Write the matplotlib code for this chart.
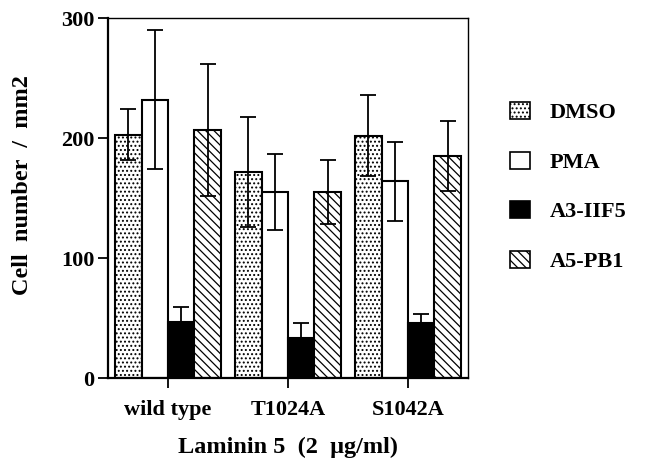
import numpy as np
import matplotlib.pyplot as plt
from matplotlib.patches import Patch

groups = ["wild type", "T1024A", "S1042A"]
series = ["DMSO", "PMA", "A3-IIF5", "A5-PB1"]
values = {
    "DMSO":    [203, 172, 202],
    "PMA":     [232, 155, 164],
    "A3-IIF5": [47, 33, 46],
    "A5-PB1":  [207, 155, 185],
}
errors = {
    "DMSO":    [21, 46, 34],
    "PMA":     [58, 32, 33],
    "A3-IIF5": [12, 13, 7],
    "A5-PB1":  [55, 27, 29],
}
faces = {"DMSO": "white", "PMA": "white", "A3-IIF5": "black", "A5-PB1": "white"}
hatches = {"DMSO": "....", "PMA": None, "A3-IIF5": None, "A5-PB1": "\\\\\\\\"}

plt.rcParams["font.family"] = ["Liberation Serif", "DejaVu Serif"]
plt.rcParams["font.weight"] = "bold"
plt.rcParams["hatch.linewidth"] = 0.9

fig = plt.figure(figsize=(6.51, 4.65), dpi=100)
ax = fig.add_axes([0.166, 0.187, 0.553, 0.774])

x = np.arange(len(groups))
w = 0.22
for i, s in enumerate(series):
    pos = x + (i - 1.5) * w
    ax.bar(pos, values[s], w, color=faces[s], edgecolor="black",
           linewidth=1.5, hatch=hatches[s], zorder=2)
    ax.errorbar(pos, values[s], yerr=errors[s], fmt="none", ecolor="black",
                elinewidth=1.3, capsize=5.5, capthick=1.3, zorder=3)

ax.set_xlim(-0.5, 2.5)
ax.set_ylim(0, 300)
ax.set_yticks([0, 100, 200, 300])
ax.set_xticks(x)
ax.set_xticklabels(groups)
ax.tick_params(direction="out", length=7, width=1.3, labelsize=16)
ax.tick_params(axis="x", pad=9)
ax.tick_params(axis="y", pad=3)
for sp in ["left", "bottom"]:
    ax.spines[sp].set_linewidth(1.6)
for sp in ["top", "right"]:
    ax.spines[sp].set_linewidth(1.0)

ax.set_ylabel("Cell  number  /  mm2", fontsize=17.5, fontweight="bold")
ax.yaxis.set_label_coords(-0.208, 0.536)
ax.set_xlabel("Laminin 5  (2  μg/ml)", fontsize=17.5, fontweight="bold", labelpad=12)

handles = [Patch(facecolor=faces[s], edgecolor="black", hatch=hatches[s], linewidth=1.2)
           for s in series]
fig.legend(handles, series, loc="upper left", bbox_to_anchor=(0.783, 0.781),
           frameon=False, handlelength=0.9, handleheight=0.8,
           labelspacing=1.28, handletextpad=0.9, borderpad=0, borderaxespad=0,
           prop={"weight": "bold", "size": 16})

fig.savefig("out.png", dpi=100)
